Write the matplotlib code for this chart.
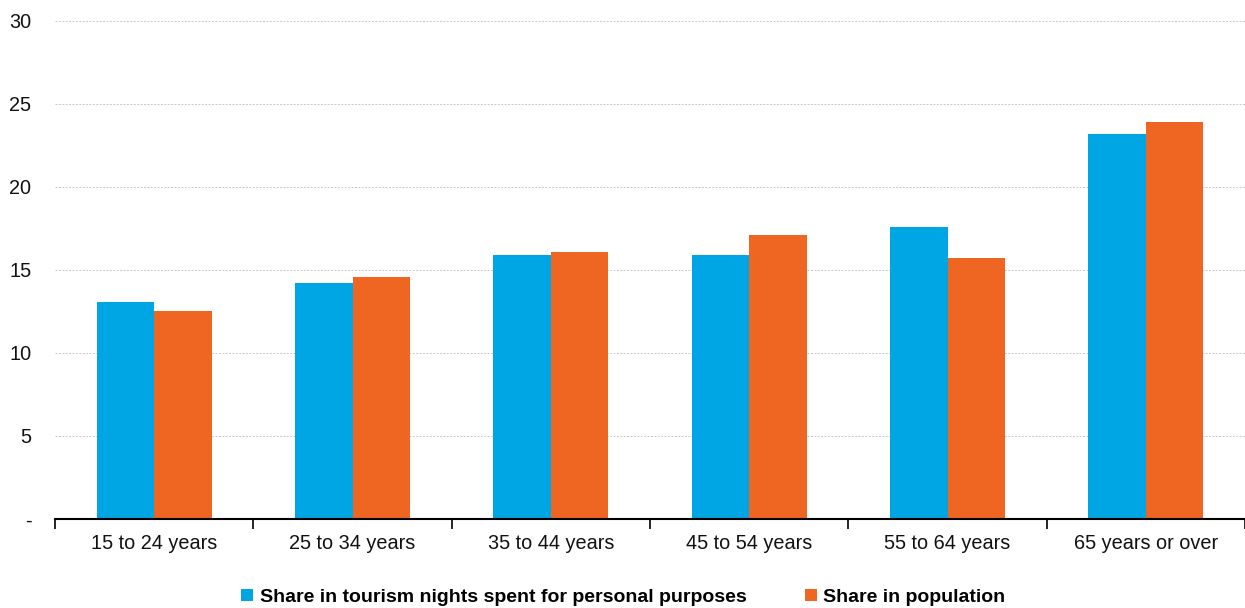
import matplotlib
matplotlib.use("Agg")
import matplotlib.pyplot as plt
import numpy as np
from matplotlib.ticker import FixedLocator

categories = ["15 to 24 years", "25 to 34 years", "35 to 44 years",
              "45 to 54 years", "55 to 64 years", "65 years or over"]
nights_share = [13.1, 14.2, 15.9, 15.9, 17.6, 23.2]
population_share = [12.5, 14.6, 16.1, 17.1, 15.7, 23.9]
series_labels = ["Share in tourism nights spent for personal purposes",
                 "Share in population"]
y_ticks = [0, 5, 10, 15, 20, 25, 30]
y_tick_labels = ["-", "5", "10", "15", "20", "25", "30"]

BLUE = "#00A5E3"
ORANGE = "#EF6522"

plt.rcParams["font.family"] = ["Liberation Sans", "DejaVu Sans"]

fig = plt.figure(figsize=(12.45, 6.08), dpi=100)
ax = fig.add_axes([0.0442, 0.1464, 0.9558, 0.8191])

x = np.arange(len(categories))
w = 0.29
ax.bar(x - w / 2, nights_share, width=w, color=BLUE, label=series_labels[0], zorder=3)
ax.bar(x + w / 2, population_share, width=w, color=ORANGE, label=series_labels[1], zorder=3)

ax.set_xlim(-0.5, len(categories) - 0.5)
ax.set_ylim(0, 30)

ax.yaxis.set_major_locator(FixedLocator(y_ticks))
ax.set_yticklabels(y_tick_labels, fontsize=14.3, color="#111111")
ax.tick_params(axis="y", length=0, pad=17)

ax.set_xticks(x)
ax.set_xticklabels(categories, fontsize=14.3, color="#111111")
ax.tick_params(axis="x", length=0, pad=11)
ax.xaxis.set_minor_locator(FixedLocator(np.arange(-0.5, len(categories), 1.0)))
ax.tick_params(axis="x", which="minor", length=7, width=1.2, color="black", direction="out")

for s in ["top", "right", "left"]:
    ax.spines[s].set_visible(False)
ax.spines["bottom"].set_linewidth(1.5)
ax.spines["bottom"].set_zorder(4)

for yv in y_ticks[1:]:
    ax.axhline(yv, color="#C8C8C8", linewidth=0.7, linestyle=(0, (2, 1.5)), zorder=1, clip_on=False)

leg = fig.legend(loc="center", bbox_to_anchor=(0.5008, 0.017), ncol=2, frameon=False,
                 handlelength=0.6, handleheight=0.6, handletextpad=0.35, columnspacing=3.0,
                 prop={"family": ["Liberation Sans", "DejaVu Sans"],
                       "weight": "bold", "size": 14})

fig.savefig("out.png", dpi=100, facecolor="white")
